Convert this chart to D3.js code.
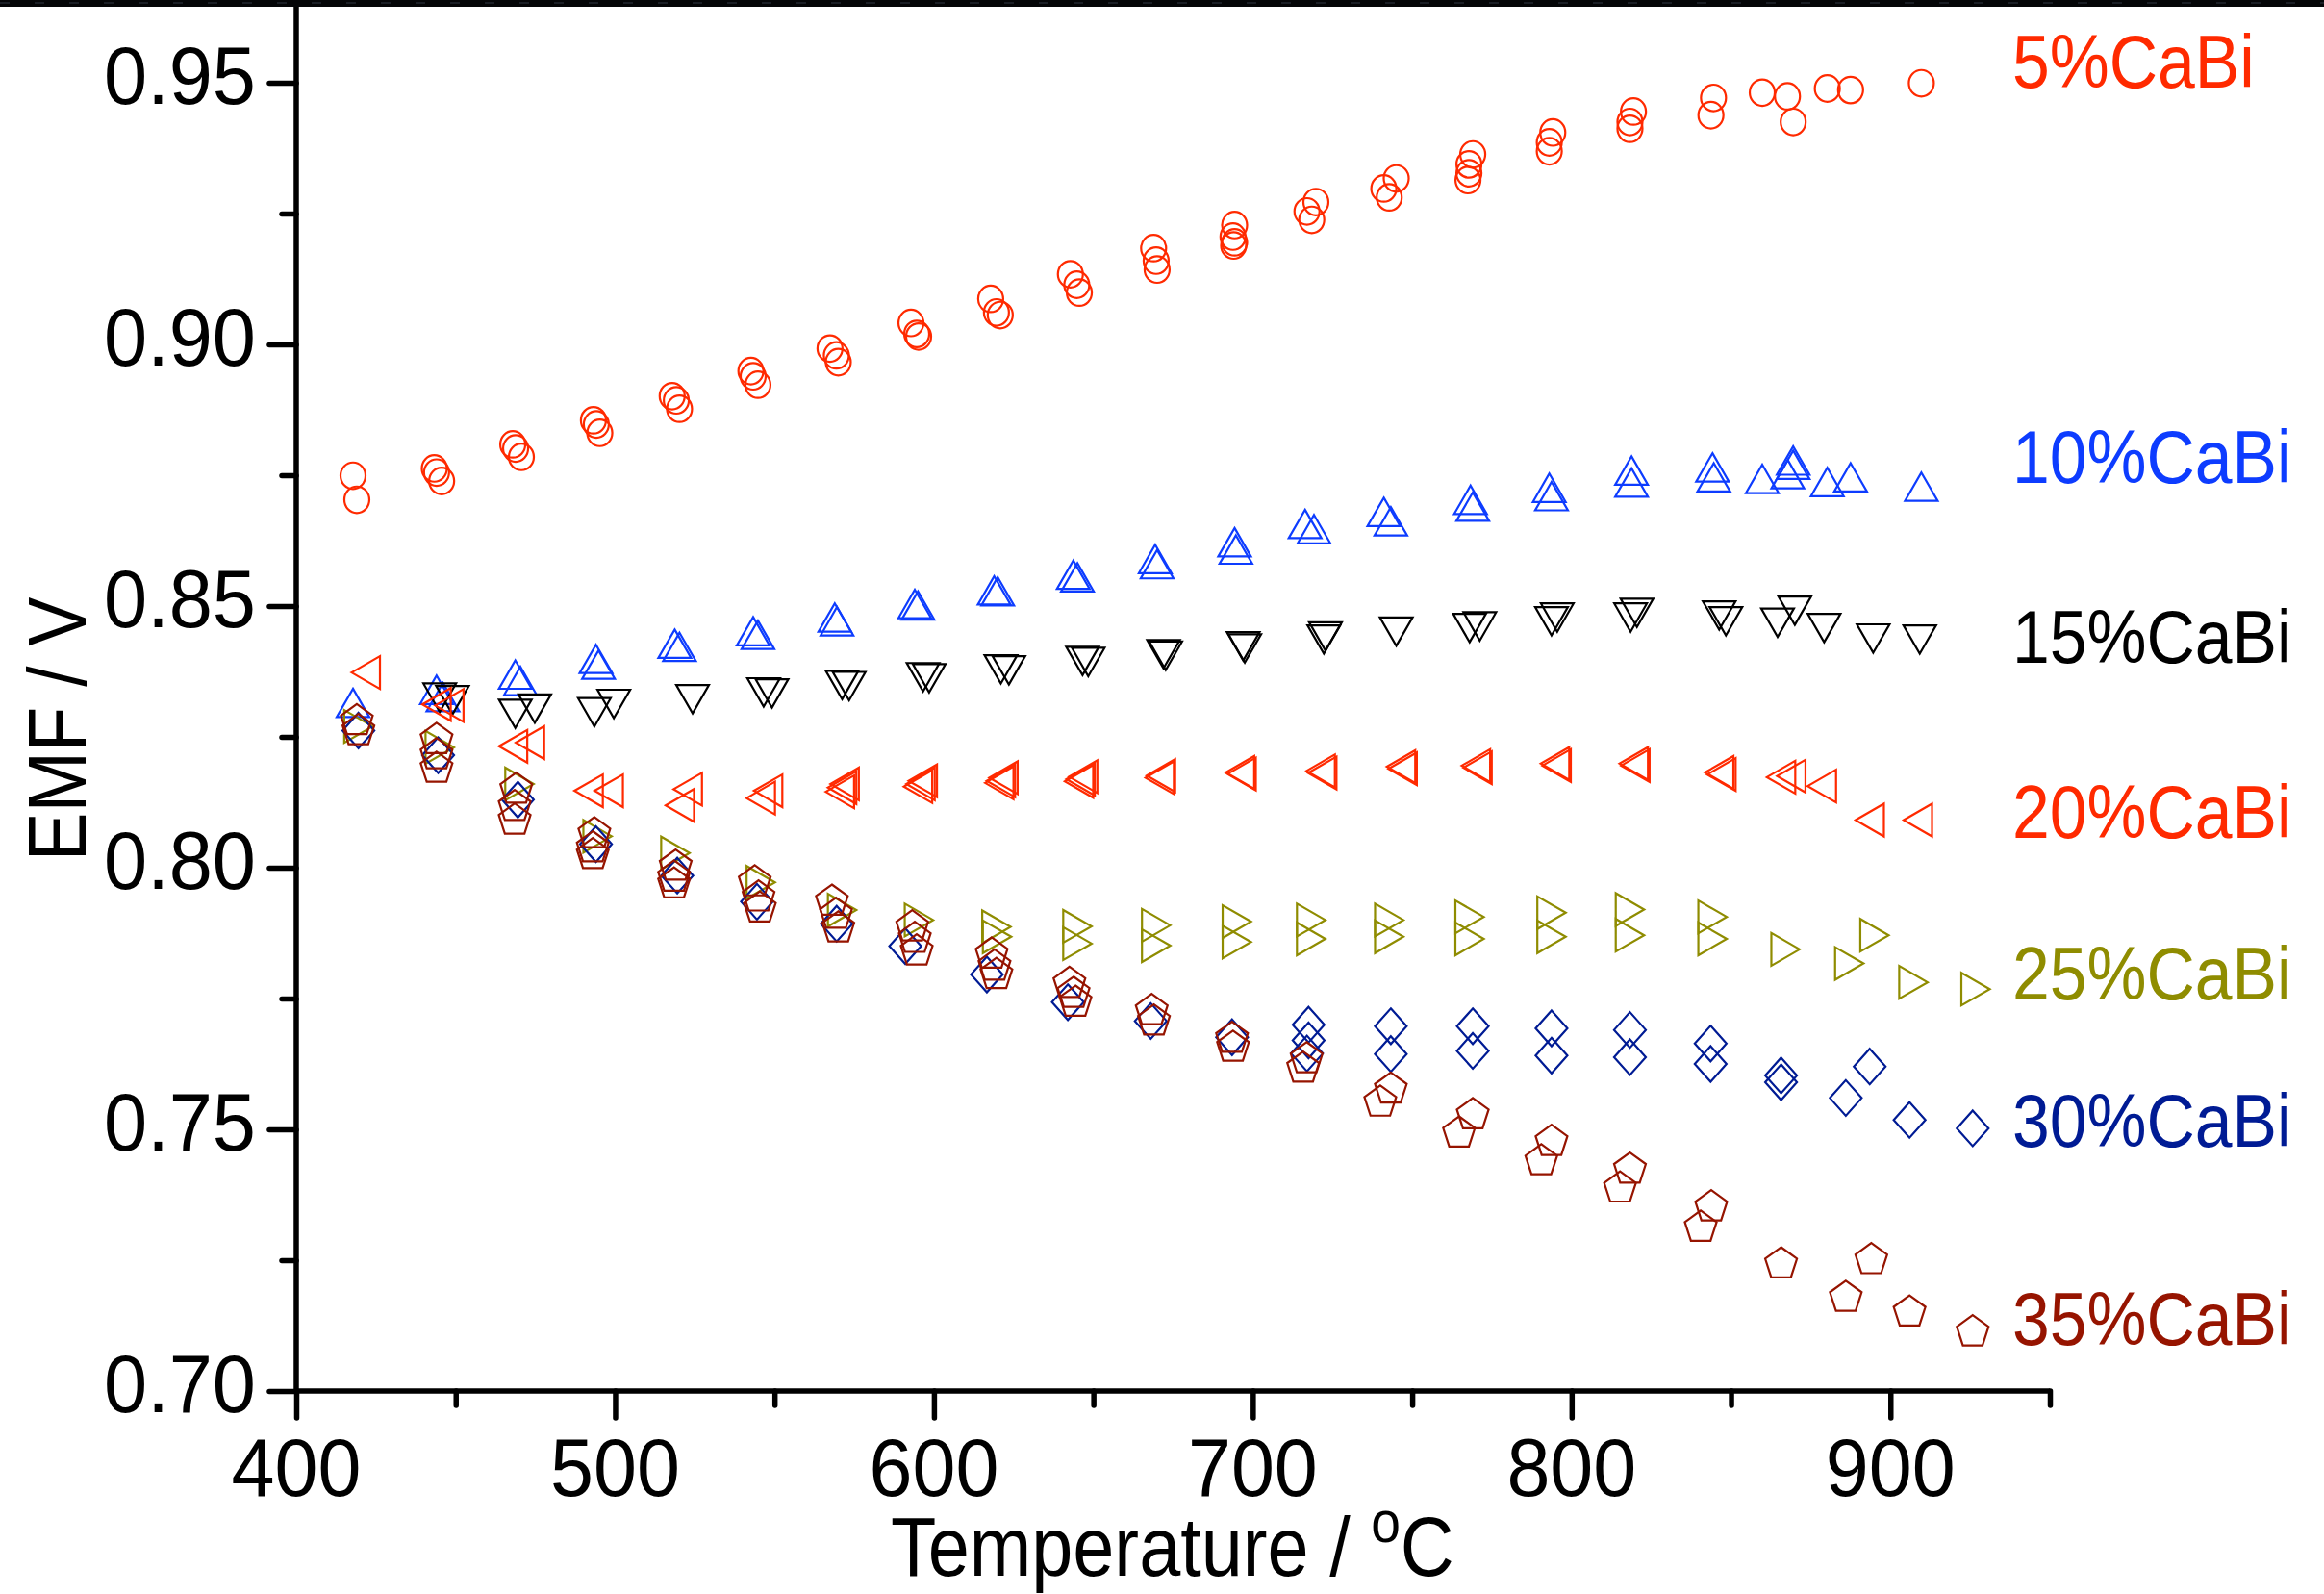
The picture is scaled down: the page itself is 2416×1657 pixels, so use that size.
<!DOCTYPE html>
<html>
<head>
<meta charset="utf-8">
<script src="https://cdn.jsdelivr.net/npm/d3@7/dist/d3.min.js"></script>
<style>
  html, body { margin: 0; padding: 0; background: #ffffff; }
  svg { display: block; }
  text { font-family: "Liberation Sans", Arial, Helvetica, sans-serif; }
</style>
</head>
<body>
<svg id="chart" width="2416" height="1657"></svg>
<script>
// ---- data: EMF (V) versus temperature (°C) for Ca–Bi alloys ----
const seriesLabels = ["5%CaBi", "10%CaBi", "15%CaBi", "20%CaBi", "25%CaBi", "30%CaBi", "35%CaBi"];

const temp5 = [417.8,419.0,443.3,444.0,445.6,467.9,468.8,470.6,493.2,494.1,495.2,517.9,519.2,520.2,542.6,543.3,544.8,567.4,569.4,570.0,592.8,594.6,595.2,617.8,619.6,620.8,642.8,644.8,645.6,668.9,669.7,670.0,694.3,693.8,694.3,694.0,719.8,717.0,718.5,745.0,741.1,742.8,769.0,767.8,767.8,767.5,794.1,793.0,793.0,819.4,818.3,818.3,844.5,843.7,859.8,867.7,869.5,880.2,887.5,909.7];
const emf5 = [0.8749,0.8703,0.8763,0.8755,0.8739,0.8809,0.8801,0.8785,0.8855,0.8847,0.8831,0.8901,0.8893,0.8877,0.8949,0.8939,0.8923,0.8992,0.8979,0.8966,0.9041,0.9020,0.9015,0.9087,0.9061,0.9056,0.9134,0.9114,0.9099,0.9184,0.9160,0.9143,0.9228,0.9206,0.9195,0.9189,0.9272,0.9254,0.9238,0.9317,0.9298,0.9281,0.9363,0.9344,0.9327,0.9314,0.9405,0.9386,0.9369,0.9445,0.9425,0.9412,0.9471,0.9438,0.9481,0.9474,0.9425,0.9489,0.9486,0.9499];

const temp10 = [417.8,444.0,446.0,468.7,470.3,494.0,494.8,518.7,520.2,543.3,544.8,568.9,569.6,594.0,595.0,618.9,620.0,643.7,645.0,669.4,670.0,694.3,694.7,716.4,719.2,741.1,743.3,768.3,769.0,793.0,793.7,818.8,818.8,844.2,844.6,859.8,869.5,869.5,867.8,880.2,887.5,909.7];
const emf10 = [0.8315,0.8340,0.8326,0.8369,0.8357,0.8399,0.8388,0.8428,0.8422,0.8452,0.8445,0.8478,0.8471,0.8504,0.8501,0.8530,0.8528,0.8560,0.8555,0.8590,0.8580,0.8622,0.8608,0.8657,0.8647,0.8680,0.8662,0.8703,0.8690,0.8726,0.8710,0.8759,0.8736,0.8765,0.8746,0.8743,0.8778,0.8770,0.8752,0.8737,0.8746,0.8728];

const temp15 = [445.0,449.0,468.7,474.8,493.5,499.6,524.3,546.6,549.2,571.2,573.4,596.6,598.5,621.0,623.5,646.6,648.4,672.0,672.7,697.0,697.5,722.3,722.8,745.0,768.0,771.2,793.7,795.5,818.5,820.5,846.3,848.4,864.6,870.0,879.2,894.6,909.2];
const emf15 = [0.8325,0.8320,0.8294,0.8304,0.8297,0.8313,0.8322,0.8335,0.8333,0.8349,0.8347,0.8364,0.8362,0.8379,0.8377,0.8395,0.8393,0.8408,0.8405,0.8423,0.8419,0.8436,0.8442,0.8451,0.8458,0.8461,0.8471,0.8478,0.8478,0.8487,0.8482,0.8471,0.8468,0.8491,0.8458,0.8438,0.8436];

const temp20 = [421.8,444.0,448.0,468.0,473.3,491.7,498.0,520.3,522.8,545.7,548.0,570.5,571.2,572.0,595.0,595.8,596.5,620.5,621.0,621.8,645.5,646.0,646.8,670.8,671.2,696.0,696.5,721.3,721.8,746.5,747.0,770.0,770.5,794.8,795.3,819.5,820.0,846.3,847.0,865.7,868.9,878.5,893.5,908.6];
const emf20 = [0.8373,0.8312,0.8310,0.8232,0.8239,0.8147,0.8147,0.8119,0.8150,0.8133,0.8147,0.8145,0.8153,0.8160,0.8155,0.8160,0.8166,0.8162,0.8166,0.8172,0.8165,0.8169,0.8174,0.8172,0.8176,0.8182,0.8179,0.8185,0.8181,0.8193,0.8189,0.8195,0.8191,0.8199,0.8195,0.8199,0.8195,0.8182,0.8178,0.8173,0.8175,0.8156,0.8091,0.8091];

const temp25 = [419.5,445.0,470.0,494.5,518.9,545.7,571.2,595.3,619.6,619.8,645.0,645.0,669.7,669.7,695.0,695.0,718.3,718.3,742.8,742.8,768.0,768.0,793.7,793.7,818.3,818.3,844.2,844.2,867.1,887.1,895.0,907.2,926.7];
const emf25 = [0.8270,0.8230,0.8160,0.8060,0.8028,0.7972,0.7919,0.7900,0.7887,0.7868,0.7888,0.7855,0.7890,0.7851,0.7897,0.7858,0.7900,0.7864,0.7900,0.7868,0.7906,0.7864,0.7914,0.7868,0.7920,0.7871,0.7906,0.7864,0.7844,0.7817,0.7871,0.7781,0.7768];

const temp30 = [419.5,444.5,469.5,494.0,519.5,544.5,569.5,591.0,616.6,642.0,668.0,693.5,717.5,717.5,717.0,743.3,743.3,769.0,769.0,793.7,793.7,818.3,818.3,843.6,843.6,865.7,865.7,886.0,893.5,906.0,925.8];
const emf30 = [0.8262,0.8215,0.8130,0.8045,0.7985,0.7935,0.7893,0.7850,0.7796,0.7743,0.7707,0.7676,0.7700,0.7670,0.7645,0.7697,0.7644,0.7697,0.7650,0.7693,0.7641,0.7690,0.7638,0.7664,0.7625,0.7603,0.7590,0.7560,0.7620,0.7518,0.7502];

const temp35 = [419.0,419.5,444.0,444.0,444.0,469.0,468.5,468.5,493.5,493.0,493.0,519.0,518.5,518.5,543.8,545.0,545.4,568.0,569.3,570.0,593.2,594.0,594.6,618.1,619.0,619.6,642.5,643.8,644.4,668.3,669.0,693.5,693.8,716.9,715.8,743.3,740.0,769.0,764.7,793.7,790.5,818.3,815.2,843.8,840.5,865.7,886.0,894.0,906.0,925.8];
const emf35 = [0.8284,0.8265,0.8248,0.8219,0.8193,0.8153,0.8120,0.8094,0.8068,0.8041,0.8028,0.8006,0.7985,0.7972,0.7976,0.7947,0.7926,0.7939,0.7914,0.7888,0.7890,0.7868,0.7844,0.7838,0.7815,0.7799,0.7782,0.7763,0.7746,0.7730,0.7710,0.7677,0.7660,0.7638,0.7620,0.7580,0.7555,0.7531,0.7496,0.7480,0.7443,0.7427,0.7391,0.7355,0.7316,0.7246,0.7182,0.7254,0.7154,0.7116];

const xMajorTicks = [400, 500, 600, 700, 800, 900];
const xMinorTicks = [450, 550, 650, 750, 850, 950];
const yMajorTicks = [0.70, 0.75, 0.80, 0.85, 0.90, 0.95];
const yMinorTicks = [0.725, 0.775, 0.825, 0.875, 0.925];

// ---- layout & style ----
const W = 2416, H = 1657;
const plot = { left: 308, right: 2131, top: 0, bottom: 1446 };
const axisStroke = 5.5;
const majorLen = 28, minorLen = 15;

const seriesStyle = [
  { color: "#ff2a00", shape: "circle",   labelBaseline: 91 },
  { color: "#0d3cff", shape: "up",       labelBaseline: 502 },
  { color: "#000000", shape: "down",     labelBaseline: 689 },
  { color: "#ff2a00", shape: "left",     labelBaseline: 871 },
  { color: "#8f8c00", shape: "right",    labelBaseline: 1039 },
  { color: "#001b94", shape: "diamond",  labelBaseline: 1192 },
  { color: "#961400", shape: "pentagon", labelBaseline: 1398 }
];
const seriesData = [
  [temp5, emf5], [temp10, emf10], [temp15, emf15], [temp20, emf20],
  [temp25, emf25], [temp30, emf30], [temp35, emf35]
];

const svg = d3.select("#chart");

const x = d3.scaleLinear().domain([400, 950]).range([plot.left, plot.right]);
const yTop = 0.70 + (plot.bottom - plot.top) / 5440;
const y = d3.scaleLinear().domain([0.70, yTop]).range([plot.bottom, plot.top]);

// marker outlines, centred on their bounding box
function markerPath(shape) {
  const s = 34, h = 29.5, hh = h / 2;
  switch (shape) {
    case "up":    return `M0,${-hh}L${s/2},${hh}L${-s/2},${hh}Z`;
    case "down":  return `M0,${hh}L${s/2},${-hh}L${-s/2},${-hh}Z`;
    case "left":  return `M${-hh},0L${hh},${-s/2}L${hh},${s/2}Z`;
    case "right": return `M${hh},0L${-hh},${-s/2}L${-hh},${s/2}Z`;
    case "diamond": return "M0,-18.5L16.5,0L0,18.5L-16.5,0Z";
    case "pentagon": {
      const R = 17.35, off = 0.0955 * R;
      const pts = d3.range(5).map(k => {
        const a = (-90 + 72 * k) * Math.PI / 180;
        return [R * Math.cos(a), R * Math.sin(a) + off];
      });
      return "M" + pts.map(p => p[0].toFixed(2) + "," + p[1].toFixed(2)).join("L") + "Z";
    }
  }
  return "";
}

// ---- markers ----
const marks = svg.append("g").attr("class", "marks");
seriesData.forEach(([temps, emfs], i) => {
  const st = seriesStyle[i];
  const pts = d3.zip(temps, emfs);
  const g = marks.append("g")
    .attr("fill", "none")
    .attr("stroke", st.color)
    .attr("stroke-width", 2.2);
  if (st.shape === "circle") {
    g.selectAll("ellipse").data(pts).join("ellipse")
      .attr("cx", d => x(d[0])).attr("cy", d => y(d[1]))
      .attr("rx", 13).attr("ry", 13.8);
  } else {
    const p = markerPath(st.shape);
    g.selectAll("path").data(pts).join("path")
      .attr("d", p)
      .attr("transform", d => `translate(${x(d[0])},${y(d[1])})`);
  }
});

// ---- axes ----
const axes = svg.append("g").attr("class", "axes");

function styleAxis(sel) {
  sel.select(".domain").remove();
  sel.selectAll(".tick line")
    .attr("stroke", "#000")
    .attr("stroke-width", axisStroke)
    .attr("stroke-linecap", "round");
  sel.selectAll(".tick text").remove();
}

axes.append("g")
  .attr("transform", `translate(${plot.left},0)`)
  .call(d3.axisLeft(y).tickValues(yMajorTicks).tickSize(majorLen).tickSizeOuter(0))
  .call(styleAxis);
axes.append("g")
  .attr("transform", `translate(${plot.left},0)`)
  .call(d3.axisLeft(y).tickValues(yMinorTicks).tickSize(minorLen).tickSizeOuter(0))
  .call(styleAxis);
axes.append("g")
  .attr("transform", `translate(0,${plot.bottom})`)
  .call(d3.axisBottom(x).tickValues(xMajorTicks).tickSize(majorLen).tickSizeOuter(0))
  .call(styleAxis);
axes.append("g")
  .attr("transform", `translate(0,${plot.bottom})`)
  .call(d3.axisBottom(x).tickValues(xMinorTicks).tickSize(minorLen).tickSizeOuter(0))
  .call(styleAxis);

// axis lines
axes.append("line")
  .attr("x1", plot.left).attr("x2", plot.left)
  .attr("y1", 0).attr("y2", plot.bottom)
  .attr("stroke", "#000").attr("stroke-width", axisStroke);
axes.append("line")
  .attr("x1", plot.left).attr("x2", plot.right)
  .attr("y1", plot.bottom).attr("y2", plot.bottom)
  .attr("stroke", "#000").attr("stroke-width", axisStroke);

// frame edge along the top
svg.append("rect").attr("x", 0).attr("y", 0).attr("width", W).attr("height", 7).attr("fill", "#040507");
svg.append("line").attr("x1", 0).attr("x2", W).attr("y1", 3).attr("y2", 3)
  .attr("stroke", "#1a1e25").attr("stroke-width", 2).attr("stroke-dasharray", "10,26");

// ---- tick labels ----
const fmt = d3.format(".2f");
svg.append("g").selectAll("text").data(yMajorTicks).join("text")
  .attr("transform", d => `translate(266,${y(d) + 22}) scale(0.955,1)`)
  .attr("text-anchor", "end")
  .attr("font-size", 85)
  .attr("fill", "#000")
  .text(d => fmt(d));

svg.append("g").selectAll("text").data(xMajorTicks).join("text")
  .attr("transform", d => `translate(${x(d)},1555) scale(0.94,1)`)
  .attr("text-anchor", "middle")
  .attr("font-size", 86)
  .attr("fill", "#000")
  .text(d => d);

// ---- axis titles ----
const xTitle = svg.append("text")
  .attr("transform", "translate(926,1638) scale(0.89,1)")
  .attr("font-size", 87)
  .attr("fill", "#000");
xTitle.append("tspan").text("Temperature / ");
xTitle.append("tspan").attr("font-size", 62).attr("dy", -35).text("o");
xTitle.append("tspan").attr("dy", 35).text("C");

svg.append("text")
  .attr("transform", "translate(89,758) rotate(-90) scale(0.895,1)")
  .attr("text-anchor", "middle")
  .attr("font-size", 85)
  .attr("fill", "#000")
  .text("EMF / V");

// ---- series labels ----
svg.append("g").selectAll("text").data(seriesLabels).join("text")
  .attr("transform", (d, i) => `translate(2092,${seriesStyle[i].labelBaseline}) scale(0.905,1)`)
  .attr("font-size", 77)
  .attr("fill", (d, i) => seriesStyle[i].color)
  .text(d => d);
</script>
</body>
</html>
